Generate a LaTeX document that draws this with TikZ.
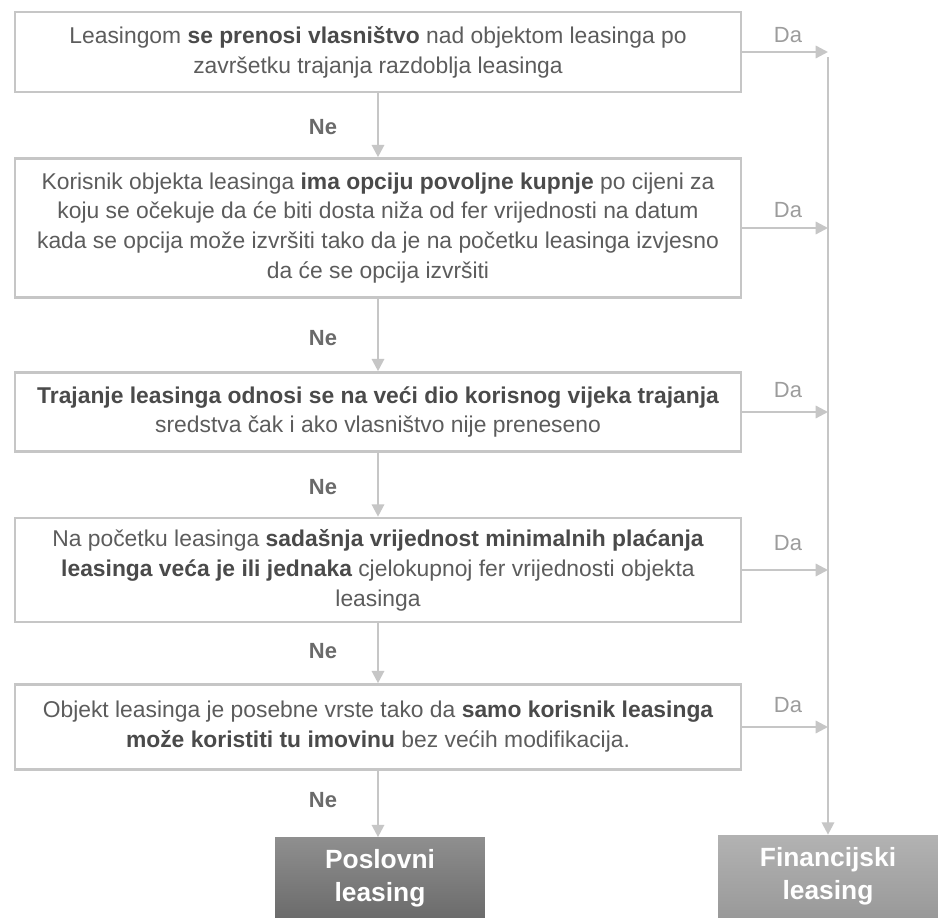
\documentclass[tikz,border=0pt]{standalone}
\usepackage{fontspec}
\setmainfont{Liberation Sans}
\usetikzlibrary{arrows.meta}

\definecolor{linegray}{HTML}{C6C6C6}
\definecolor{txtgray}{HTML}{5C5C5C}
\definecolor{boldgray}{HTML}{4A4A4A}
\definecolor{negray}{HTML}{6A6A6A}
\definecolor{dagray}{HTML}{9C9C9C}

\newcommand\jak[1]{\textbf{\color{boldgray}#1}}

\begin{document}
\begin{tikzpicture}[
            x=0.02cm, y=-0.02cm,
            crit/.style={draw=linegray, line width=1.5pt, fill=white,
                minimum width=14.52cm, inner sep=2pt, align=center, text=txtgray,
                font=\fontsize{13}{17}\selectfont},
            result/.style={minimum height=1.62cm, align=center, text=white,
                font=\fontsize{15}{19}\selectfont\bfseries},
            flow/.style={draw=linegray, line width=1.3pt,
                -{Triangle[length=7pt, width=7pt]}},
            nelbl/.style={text=negray, font=\fontsize{12.5}{14}\selectfont\bfseries},
            dalbl/.style={text=dagray, font=\fontsize{12.5}{14}\selectfont}]

            \useasboundingbox[fill=white] (0,0) rectangle (940,918);

            % criteria
            \node[crit, minimum height=1.6cm] (c1) at (378,52)
                {Leasingom \jak{se prenosi vlasništvo} nad objektom leasinga po\\
                 završetku trajanja razdoblja leasinga};
            \node[crit, minimum height=2.78cm] (c2) at (378,228)
                {Korisnik objekta leasinga \jak{ima opciju povoljne kupnje} po cijeni za\\
                 koju se očekuje da će biti dosta niža od fer vrijednosti  na datum\\
                 kada se opcija može izvršiti tako da je na početku leasinga izvjesno\\
                 da će se opcija izvršiti};
            \node[crit, minimum height=1.58cm] (c3) at (378,412)
                {\jak{Trajanje leasinga odnosi se na veći dio korisnog vijeka trajanja}\\
                 sredstva čak i ako vlasništvo nije preneseno};
            \node[crit, minimum height=2.08cm] (c4) at (378,570)
                {Na početku leasinga \jak{sadašnja vrijednost minimalnih plaćanja}\\
                 \jak{leasinga veća je ili jednaka} cjelokupnoj fer vrijednosti  objekta\\
                 leasinga};
            \node[crit, minimum height=1.7cm] (c5) at (378,727)
                {Objekt leasinga je posebne vrste tako da \jak{samo korisnik leasinga}\\
                 \jak{može koristiti tu imovinu} bez većih modifikacija.};

            % outcomes
            \node[result, minimum width=4.2cm, top color=black!44, bottom color=black!58]
                (posl) at (380,878) {Poslovni\\leasing};
            \node[result, minimum width=4.4cm, minimum height=1.66cm,
                top color=black!30, bottom color=black!40]
                (fin) at (828,876.5) {Financijski\\leasing};

            \coordinate (rail) at (828,57);

            % Ne arrows
            \foreach \i/\j in {1/2,2/3,3/4,4/5}{
                \draw[flow] (c\i.south) -- (c\i.south |- c\j.north);
            }
            \draw[flow] (c5.south) -- (c5.south |- posl.north);

            % Da arrows
            \foreach \i in {1,...,5}{
                \draw[flow] (c\i.east) -- (c\i.east -| rail);
            }
            \draw[flow] (rail) -- (fin.north);

            % labels
            \foreach \n/\y in {1/127,2/338,3/487,4/651,5/800}{
                \node[nelbl] (ne\n) at (323,\y) {Ne};
            }
            \foreach \n/\y in {1/35,2/210,3/390,4/543,5/705}{
                \node[dalbl] (da\n) at (788,\y) {Da};
            }
        \end{tikzpicture}
\end{document}
